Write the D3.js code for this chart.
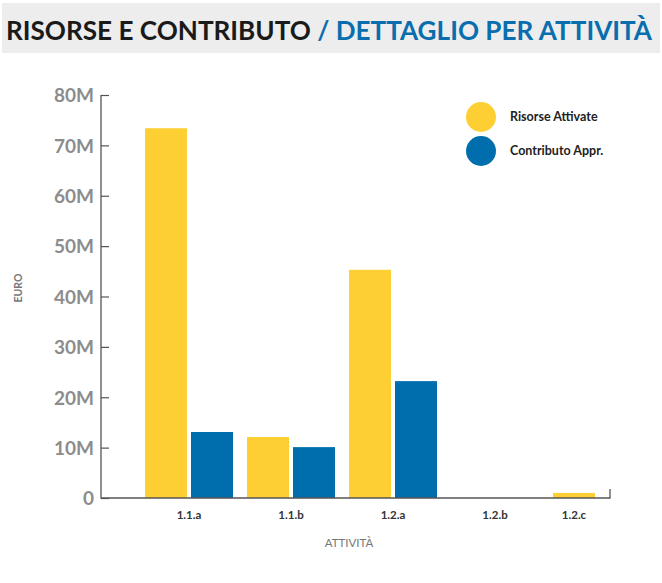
<!DOCTYPE html>
<html>
<head>
<meta charset="utf-8">
<style>
  body { margin: 0; background: #fff; font-family: Lato, "Open Sans", sans-serif; }
</style>
</head>
<body>
<div id="chart"></div>
<script src="https://d3js.org/d3.v7.min.js"></script>
<script>
// data
var categories = ["1.1.a", "1.1.b", "1.2.a", "1.2.b", "1.2.c"];
var seriesNames = ["Risorse Attivate", "Contributo Appr."];
var risorse = [73.4, 12.1, 45.3, 0, 1.0];      // milioni di euro
var contributo = [13.1, 10.1, 23.2, 0, 0];
var yTicks = [0, 10, 20, 30, 40, 50, 60, 70, 80];

var colors = ["#fecf33", "#006dad"];

var W = 662, H = 583;
var svg = d3.select("#chart").append("svg")
    .attr("width", W)
    .attr("height", H)
    .style("font-family", "Lato, 'Open Sans', sans-serif");

// title band
svg.append("rect")
    .attr("x", 2).attr("y", 3)
    .attr("width", 658).attr("height", 50)
    .attr("fill", "#ededed");

var title = svg.append("text")
    .attr("x", 6)
    .attr("y", 40)
    .style("font-size", "27px")
    .style("font-weight", "bold")
    .attr("textLength", 646)
    .attr("lengthAdjust", "spacingAndGlyphs");
title.append("tspan").attr("fill", "#1a1a1a").text("RISORSE E CONTRIBUTO ");
title.append("tspan").attr("fill", "#0a6eae").text("/ DETTAGLIO PER ATTIVITÀ");

var m = { left: 101, right: 610, top: 95, bottom: 498 };

var y = d3.scaleLinear().domain([0, 80]).range([m.bottom, m.top]);

var x0 = d3.scaleBand()
    .domain(categories)
    .range([138, 648]);

var x1 = d3.scaleBand()
    .domain(seriesNames)
    .range([7, x0.bandwidth() - 7])
    .paddingInner(0.087);

// bars
var rows = categories.map(function(c, i) {
  return { cat: c, values: [risorse[i], contributo[i]] };
});

var groups = svg.append("g")
  .selectAll("g")
  .data(rows)
  .enter().append("g")
    .attr("transform", function(d) { return "translate(" + x0(d.cat) + ",0)"; });

groups.selectAll("rect")
  .data(function(d) { return d.values.map(function(v, j) { return { key: seriesNames[j], v: v, j: j }; }); })
  .enter().append("rect")
    .attr("x", function(d) { return x1(d.key); })
    .attr("y", function(d) { return y(d.v); })
    .attr("width", x1.bandwidth())
    .attr("height", function(d) { return y(0) - y(d.v); })
    .attr("fill", function(d) { return colors[d.j]; });

// y axis
var yAxis = svg.append("g")
    .attr("transform", "translate(" + m.left + ",0)")
    .call(d3.axisRight(y).tickValues(yTicks).tickSize(8)
      .tickFormat(function(d) { return d === 0 ? "0" : d + "M"; }))
    .attr("font-family", null)
    .attr("font-size", null);
yAxis.select(".domain").remove();
yAxis.selectAll("line").attr("stroke", "#555").attr("stroke-width", 1.2);
yAxis.selectAll("text")
    .attr("x", -7)
    .attr("text-anchor", "end")
    .attr("dy", "0.36em")
    .attr("fill", "#8c8c8c")
    .style("font-size", "19px")
    .style("font-weight", "bold");

// axis lines
svg.append("path")
    .attr("d", "M" + m.left + "," + m.top + "V" + m.bottom + "H" + m.right + "V" + (m.bottom - 9))
    .attr("fill", "none")
    .attr("stroke", "#555")
    .attr("stroke-width", 1.3);

// x labels: centred under the bars that are drawn in each group
function labelX(d) {
  var drawn = seriesNames.filter(function(s, j) { return d.values[j] > 0; });
  if (drawn.length === 1) return x0(d.cat) + x1(drawn[0]) + x1.bandwidth() / 2;
  return x0(d.cat) + x0.bandwidth() / 2;
}

svg.append("g")
  .selectAll("text")
  .data(rows)
  .enter().append("text")
    .attr("x", labelX)
    .attr("y", 519)
    .attr("text-anchor", "middle")
    .attr("fill", "#333")
    .style("font-size", "11.5px")
    .style("font-weight", "bold")
    .text(function(d) { return d.cat; });

svg.append("text")
    .attr("x", 349)
    .attr("y", 547)
    .attr("text-anchor", "middle")
    .attr("fill", "#777")
    .style("font-size", "11.5px")
    .text("ATTIVITÀ");

svg.append("text")
    .attr("transform", "translate(22,288) rotate(-90)")
    .attr("text-anchor", "middle")
    .attr("fill", "#777")
    .style("font-size", "10.5px")
    .style("font-weight", "bold")
    .text("EURO");

// legend
var legend = svg.append("g")
  .selectAll("g")
  .data(seriesNames)
  .enter().append("g")
    .attr("transform", function(d, i) { return "translate(481," + (117 + i * 34) + ")"; });

legend.append("circle")
    .attr("r", 15)
    .attr("fill", function(d, i) { return colors[i]; });

legend.append("text")
    .attr("x", 29)
    .attr("dy", "0.35em")
    .attr("fill", "#222")
    .style("font-size", "12.5px")
    .style("font-weight", "bold")
    .text(function(d) { return d; });
</script>
</body>
</html>
